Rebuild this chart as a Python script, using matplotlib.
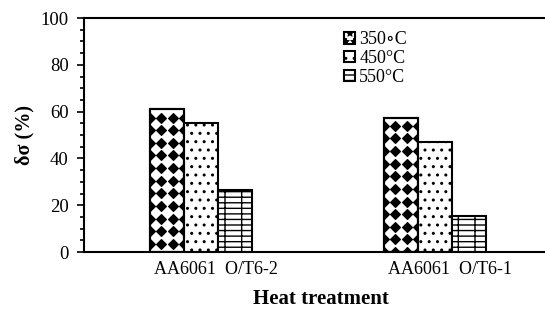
import numpy as np
import matplotlib
matplotlib.use('Agg')
import matplotlib.pyplot as plt
import matplotlib.transforms as mtransforms

plt.rcParams['font.family'] = ['Liberation Serif', 'DejaVu Serif']
plt.rcParams['hatch.linewidth'] = 1.0

# data
treatments = ['AA6061  O/T6-2', 'AA6061  O/T6-1']
temps = ['350\u2218C', '450\u00b0C', '550\u00b0C']
d_sigma_350 = [61.0, 57.5]
d_sigma_450 = [55.0, 47.0]
d_sigma_550 = [26.5, 15.5]
hatches = [None, '..', '---|']

fig = plt.figure(figsize=(5.45, 3.12), dpi=100)
ax = fig.add_axes([0.154, 0.192, 0.846, 0.750])

x = np.arange(len(treatments))
width = 0.145
series = [d_sigma_350, d_sigma_450, d_sigma_550]
containers = []
for i, (vals, lab, h) in enumerate(zip(series, temps, hatches)):
    bc = ax.bar(x + (i - 1) * width, vals, width, label=lab, facecolor='white',
                edgecolor='black', hatch=h, linewidth=1.5, zorder=2)
    containers.append(bc)

# big black blob pattern for the 350 bars, clipped to each bar
for bar in containers[0]:
    x0, w, hgt = bar.get_x(), bar.get_width(), bar.get_height()
    cols = np.arange(x0, x0 + w + 1e-9, w / 3)
    rows = np.arange(hgt - 3.5, -3, -5.4)
    gx, gy = np.meshgrid(cols, rows)
    ln, = ax.plot(gx.ravel(), gy.ravel(), 'D', color='black', markersize=5.5,
                  markeredgewidth=0.8, zorder=2.5)
    ln.set_clip_path(bar)
    ax.bar(bar.get_x() + w / 2, hgt, w, facecolor='none', edgecolor='black',
           linewidth=1.5, zorder=3)

ax.set_xlim(-0.5, 1.47)
ax.set_ylim(0, 100)
ax.set_yticks(np.arange(0, 101, 20))
ax.set_yticks(np.arange(0, 101, 5), minor=True)
ax.set_xticks(x)
ax.set_xticklabels([])
# category labels sit a bit right of the group centres in the original
offset = mtransforms.ScaledTranslation(15 / 100, -9 / 100, fig.dpi_scale_trans)
for xi, name in zip(x, treatments):
    ax.text(xi, 0, name, fontsize=13, ha='center', va='top',
            transform=ax.get_xaxis_transform() + offset)
ax.tick_params(axis='x', length=0, pad=9)
ax.tick_params(axis='y', which='major', length=5, width=1.2, labelsize=13.5,
               direction='out', pad=6)
ax.tick_params(axis='y', which='minor', length=3, width=1.2, direction='out')
for side in ['left', 'bottom', 'top']:
    ax.spines[side].set_linewidth(1.5)
ax.spines['right'].set_visible(False)

ax.set_ylabel('\u03b4\u03c3 (%)', fontsize=14.5, fontweight='bold', labelpad=4)
ax.set_xlabel('Heat treatment', fontsize=15, fontweight='bold')
ax.xaxis.set_label_coords(0.514, -0.158)

leg = ax.legend(loc='upper left', bbox_to_anchor=(0.548, 0.975), frameon=False, fontsize=13,
                handlelength=0.6, handleheight=0.6, handletextpad=0.25, labelspacing=0.1,
                borderaxespad=0)
leg.legend_handles[0].set_hatch('**')

fig.savefig('out.png', dpi=100)
